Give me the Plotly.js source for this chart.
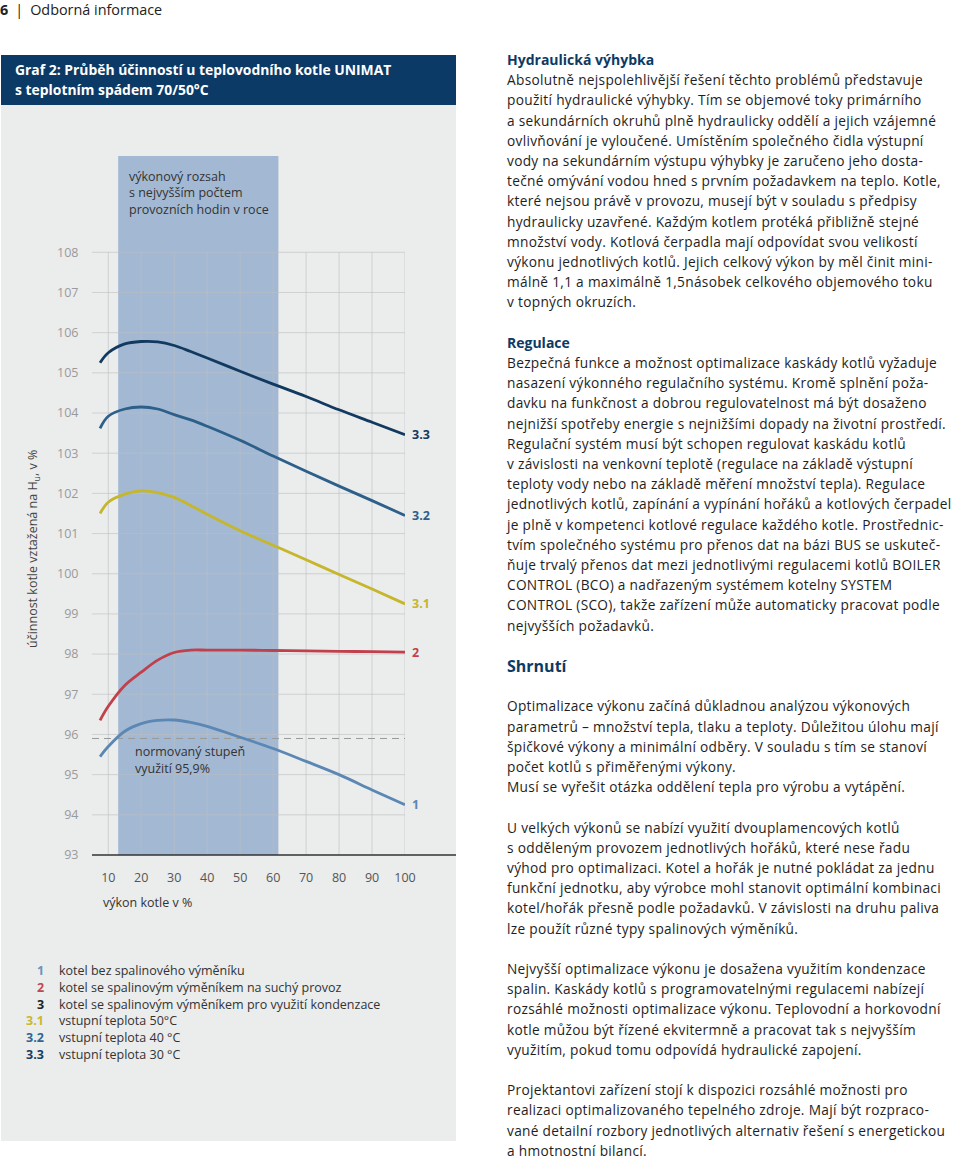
<!DOCTYPE html>
<html lang="cs">
<head>
<meta charset="utf-8">
<script src="https://cdn.plot.ly/plotly-3.0.1.min.js"></script>
<style>
  body { margin: 0; background: #fff; font-family: "Open Sans", sans-serif; color: #222; }
  #page { position: relative; width: 960px; height: 1159px; overflow: hidden; }
  #header { position: absolute; left: 0; top: 0; font-size: 14.4px; line-height: 19px; color: #222; }
  #header .sep { margin: 0 7px 0 7px; }
  #titlebar { position: absolute; left: 1px; top: 55px; width: 455px; height: 50px; box-sizing: border-box;
              padding: 5px 0 0 14px; background: #0b3a66; color: #fff; font-weight: 700; font-size: 13.9px; line-height: 20px; }
  #chart { position: absolute; left: 1px; top: 105px; width: 455px; height: 1036px; }
  #text { position: absolute; left: 507px; top: 50px; font-size: 13.7px; letter-spacing: 0.3px; line-height: 20.2px;
          white-space: nowrap; color: #1e1e1e; }
  #text h3 { margin: 0; font-size: 14px; letter-spacing: 0; line-height: 20.2px; color: #0d3a63; font-weight: 700; }
  #text h3.big { font-size: 16px; }
  #text p { margin: 0 0 20.2px 0; }
  #text .gap { height: 20.2px; }
</style>
</head>
<body>
<div id="page">
  <div id="header"><b>6</b><span class="sep">|</span>Odborná informace</div>
  <div id="titlebar">Graf 2: Průběh účinností u teplovodního kotle UNIMAT<br>s teplotním spádem 70/50°C</div>
  <div id="chart"></div>
  <div id="text">
    <h3>Hydraulická výhybka</h3>
    <p>Absolutně nejspolehlivější řešení těchto problémů představuje<br>
    použití hydraulické výhybky. Tím se objemové toky primárního<br>
    a sekundárních okruhů plně hydraulicky oddělí a jejich vzájemné<br>
    ovlivňování je vyloučené. Umístěním společného čidla výstupní<br>
    vody na sekundárním výstupu výhybky je zaručeno jeho dosta-<br>
    tečné omývání vodou hned s prvním požadavkem na teplo. Kotle,<br>
    které nejsou právě v provozu, musejí být v souladu s předpisy<br>
    hydraulicky uzavřené. Každým kotlem protéká přibližně stejné<br>
    množství vody. Kotlová čerpadla mají odpovídat svou velikostí<br>
    výkonu jednotlivých kotlů. Jejich celkový výkon by měl činit mini-<br>
    málně 1,1 a maximálně 1,5násobek celkového objemového toku<br>
    v topných okruzích.</p>
    <h3>Regulace</h3>
    <p>Bezpečná funkce a možnost optimalizace kaskády kotlů vyžaduje<br>
    nasazení výkonného regulačního systému. Kromě splnění poža-<br>
    davku na funkčnost a dobrou regulovatelnost má být dosaženo<br>
    nejnižší spotřeby energie s nejnižšími dopady na životní prostředí.<br>
    Regulační systém musí být schopen regulovat kaskádu kotlů<br>
    v závislosti na venkovní teplotě (regulace na základě výstupní<br>
    teploty vody nebo na základě měření množství tepla). Regulace<br>
    jednotlivých kotlů, zapínání a vypínání hořáků a kotlových čerpadel<br>
    je plně v kompetenci kotlové regulace každého kotle. Prostřednic-<br>
    tvím společného systému pro přenos dat na bázi BUS se uskuteč-<br>
    ňuje trvalý přenos dat mezi jednotlivými regulacemi kotlů BOILER<br>
    CONTROL (BCO) a nadřazeným systémem kotelny SYSTEM<br>
    CONTROL (SCO), takže zařízení může automaticky pracovat podle<br>
    nejvyšších požadavků.</p>
    <h3 class="big">Shrnutí</h3>
    <div class="gap"></div>
    <p>Optimalizace výkonu začíná důkladnou analýzou výkonových<br>
    parametrů – množství tepla, tlaku a teploty. Důležitou úlohu mají<br>
    špičkové výkony a minimální odběry. V souladu s tím se stanoví<br>
    počet kotlů s přiměřenými výkony.<br>
    Musí se vyřešit otázka oddělení tepla pro výrobu a vytápění.</p>
    <p>U velkých výkonů se nabízí využití dvouplamencových kotlů<br>
    s odděleným provozem jednotlivých hořáků, které nese řadu<br>
    výhod pro optimalizaci. Kotel a hořák je nutné pokládat za jednu<br>
    funkční jednotku, aby výrobce mohl stanovit optimální kombinaci<br>
    kotel/hořák přesně podle požadavků. V závislosti na druhu paliva<br>
    lze použít různé typy spalinových výměníků.</p>
    <p>Nejvyšší optimalizace výkonu je dosažena využitím kondenzace<br>
    spalin. Kaskády kotlů s programovatelnými regulacemi nabízejí<br>
    rozsáhlé možnosti optimalizace výkonu. Teplovodní a horkovodní<br>
    kotle můžou být řízené ekvitermně a pracovat tak s nejvyšším<br>
    využitím, pokud tomu odpovídá hydraulické zapojení.</p>
    <p>Projektantovi zařízení stojí k dispozici rozsáhlé možnosti pro<br>
    realizaci optimalizovaného tepelného zdroje. Mají být rozpraco-<br>
    vané detailní rozbory jednotlivých alternativ řešení s energetickou<br>
    a hmotnostní bilancí.</p>
  </div>
</div>
<script>
// výkon kotle v % (x) and účinnost v % (y)
var loadPct = [7.5, 10, 15, 20, 25, 30, 35, 40, 50, 60, 70, 80, 90, 100];
var eff1  = [95.45, 95.7, 96.08, 96.27, 96.35, 96.36, 96.3, 96.2, 95.93, 95.65, 95.33, 95.0, 94.62, 94.25];
var eff2  = [96.35, 96.7, 97.22, 97.55, 97.85, 98.04, 98.1, 98.1, 98.1, 98.09, 98.08, 98.07, 98.06, 98.05];
var eff31 = [101.5, 101.78, 101.98, 102.06, 102.02, 101.9, 101.7, 101.48, 101.07, 100.71, 100.35, 99.98, 99.62, 99.25];
var eff32 = [103.62, 103.92, 104.1, 104.15, 104.1, 103.96, 103.83, 103.67, 103.32, 102.93, 102.55, 102.18, 101.82, 101.45];
var eff33 = [105.25, 105.5, 105.72, 105.78, 105.77, 105.68, 105.53, 105.37, 105.04, 104.72, 104.41, 104.08, 103.77, 103.46];

var curveNames = ['1', '2', '3.1', '3.2', '3.3'];
var xTicks = [10, 20, 30, 40, 50, 60, 70, 80, 90, 100];
var yTicks = [93, 94, 95, 96, 97, 98, 99, 100, 101, 102, 103, 104, 105, 106, 107, 108];
var bandRange = [13, 61.6];   // výkonový rozsah s nejvyšším počtem hodin
var normEff = 95.9;           // normovaný stupeň využití

var legendKeys = ['1', '2', '3', '3.1', '3.2', '3.3'];
var legendTexts = [
  'kotel bez spalinového výměníku',
  'kotel se spalinovým výměníkem na suchý provoz',
  'kotel se spalinovým výměníkem pro využití kondenzace',
  'vstupní teplota 50°C',
  'vstupní teplota 40 °C',
  'vstupní teplota 30 °C'
];

var FONT = '"Open Sans", sans-serif';
var curveColors = ['#5b87b4', '#c0414b', '#c6b62c', '#2d5f8b', '#12395f'];
var legendColors = ['#6d94bd', '#c0474f', '#222222', '#c9b82e', '#2f6593', '#163e63'];

// plot area in page pixels: x 92..405, y 156..855 (chart div starts at page 1,105)
function px(x) { return (x - 92) / 313; }
function py(y) { return (855 - y) / 699; }

var xMin = 5.06, yMax = 93 + 699 / 40.18;

var series = [eff1, eff2, eff31, eff32, eff33];
var data = series.map(function (ys, i) {
  return {
    x: loadPct, y: ys, type: 'scatter', mode: 'lines',
    line: {color: curveColors[i], width: 2.8, shape: 'spline', smoothing: 1},
    hoverinfo: 'skip', cliponaxis: false
  };
});

var shapes = [];
shapes.push({type: 'rect', layer: 'below', xref: 'x', yref: 'paper',
  x0: bandRange[0], x1: bandRange[1], y0: 0, y1: 1,
  fillcolor: '#a3b9d3', line: {width: 0}});
xTicks.forEach(function (t) {
  shapes.push({type: 'line', layer: 'below', xref: 'x', yref: 'y', x0: t, x1: t, y0: 93, y1: 108,
    line: {color: 'rgba(188,190,193,0.6)', width: 1}});
});
yTicks.slice(1).forEach(function (t) {
  shapes.push({type: 'line', layer: 'below', xref: 'x', yref: 'y', x0: xMin, x1: 100, y0: t, y1: t,
    line: {color: 'rgba(188,190,193,0.6)', width: 1}});
});
shapes.push({type: 'line', layer: 'below', xref: 'x', yref: 'y', x0: xMin, x1: 100, y0: normEff, y1: normEff,
  line: {color: '#999999', width: 1.2, dash: '7px,5px'}});
shapes.push({type: 'line', xref: 'paper', yref: 'paper', x0: 0, x1: 364 / 313, y0: 0, y1: 0,
  line: {color: '#333333', width: 1.5}});

var annotations = [];
function note(text, x, y, opts) {
  var a = {text: text, xref: 'paper', yref: 'paper', x: px(x), y: py(y), showarrow: false,
    xanchor: 'left', yanchor: 'middle', align: 'left', borderpad: 0,
    font: {family: FONT, size: 12.5, color: '#333333'}};
  for (var k in opts) a[k] = opts[k];
  annotations.push(a);
}
note('výkonový rozsah<br>s nejvyšším počtem<br>provozních hodin v roce', 127.5, 193);
note('normovaný stupeň', 134, 751);
note('využití 95,9%', 134, 768);
note('výkon kotle v %', 101.5, 902.7);
note('účinnost kotle vztažená na H<sub>u</sub>, v %', 33, 549,
  {xanchor: 'center', textangle: -90, font: {family: FONT, size: 12.5, color: '#444444'}});

curveNames.forEach(function (name, i) {
  var ys = series[i];
  annotations.push({text: '<b>' + name + '</b>', xref: 'x', yref: 'y', x: 100, y: ys[ys.length - 1],
    xanchor: 'left', yanchor: 'middle', xshift: 6, showarrow: false, borderpad: 0,
    font: {family: FONT, size: 12.5, color: curveColors[i]}});
});

var legendY = [970.7, 987.4, 1004.1, 1020.8, 1037.5, 1054.2];
legendKeys.forEach(function (k, i) {
  note('<b>' + k + '</b>', 45, legendY[i], {xanchor: 'right', font: {family: FONT, size: 12.5, color: legendColors[i]}});
  note(legendTexts[i], 58, legendY[i]);
});

var layout = {
  width: 455, height: 1036,
  margin: {l: 91, r: 51, t: 51, b: 286, pad: 0},
  paper_bgcolor: '#ebecec', plot_bgcolor: 'rgba(0,0,0,0)',
  showlegend: false,
  xaxis: {range: [xMin, 100], tickvals: xTicks, showgrid: false, zeroline: false, showline: false,
    ticks: 'outside', ticklen: 11, tickcolor: 'rgba(0,0,0,0)', fixedrange: true,
    tickfont: {family: FONT, size: 12.5, color: '#555555'}},
  yaxis: {range: [93, yMax], tickvals: yTicks, showgrid: false, zeroline: false, showline: false,
    ticks: 'outside', ticklen: 10, tickcolor: 'rgba(0,0,0,0)', fixedrange: true,
    tickfont: {family: FONT, size: 12.5, color: '#9a9a9a'}},
  shapes: shapes,
  annotations: annotations
};

Plotly.newPlot('chart', data, layout, {displayModeBar: false, staticPlot: true});
</script>
</body>
</html>
